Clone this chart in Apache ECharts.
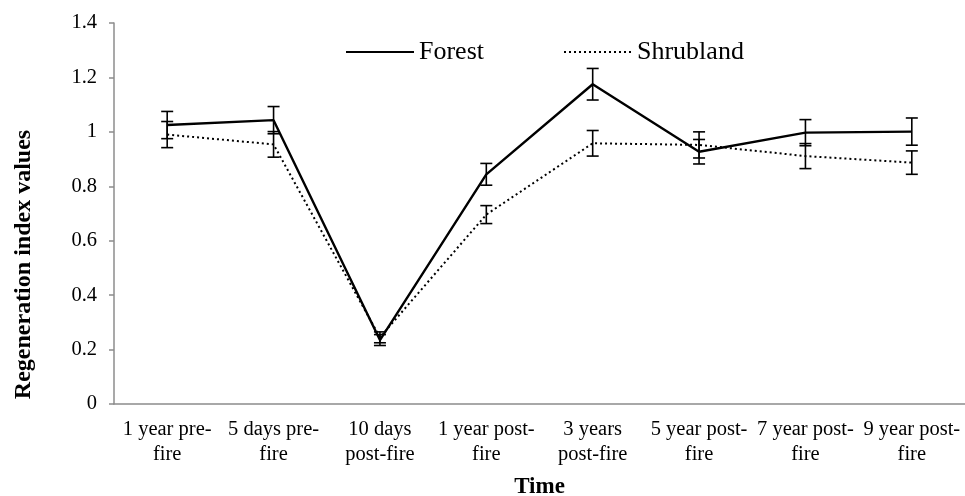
<!DOCTYPE html>
<html>
<head>
<meta charset="utf-8">
<script src="https://cdn.jsdelivr.net/npm/echarts@6/dist/echarts.min.js"></script>
<style>
  html, body { margin: 0; padding: 0; background: #fff; }
  #chart { width: 965px; height: 496px; }
</style>
</head>
<body>
<div id="chart"></div>
<script>
// Kategorien (Zeitpunkte)
const categories = [
  "1 year pre-\nfire", "5 days pre-\nfire", "10 days\npost-fire", "1 year post-\nfire",
  "3 years\npost-fire", "5 year post-\nfire", "7 year post-\nfire", "9 year post-\nfire"
];
const forestMean = [1.025, 1.043, 0.235, 0.844, 1.175, 0.927, 0.997, 1.001];
const forestErr  = [0.050, 0.050, 0.020, 0.040, 0.058, 0.045, 0.048, 0.050];
const shrubMean  = [0.990, 0.954, 0.245, 0.696, 0.958, 0.952, 0.911, 0.887];
const shrubErr   = [0.048, 0.047, 0.020, 0.033, 0.047, 0.048, 0.046, 0.043];

const font = "'Liberation Serif', 'Times New Roman', serif";
const chart = echarts.init(document.getElementById("chart"));

// Fehlerbalken als custom series
const errorData = (mean, err) => mean.map((m, i) => [i, m - err[i], m + err[i]]);

const renderError = (params, api) => {
  const low = api.coord([api.value(0), api.value(1)]);
  const high = api.coord([api.value(0), api.value(2)]);
  const hw = 6;
  const style = { stroke: "#000", lineWidth: 1.6 };
  return {
    type: "group",
    children: [
      { type: "line", shape: { x1: high[0], y1: high[1], x2: low[0], y2: low[1] }, style },
      { type: "line", shape: { x1: high[0] - hw, y1: high[1], x2: high[0] + hw, y2: high[1] }, style },
      { type: "line", shape: { x1: low[0] - hw, y1: low[1], x2: low[0] + hw, y2: low[1] }, style }
    ]
  };
};

const option = {
  animation: false,
  grid: { left: 114, right: 0, top: 23, bottom: 92, outerBoundsMode: "none" },
  legend: {
    data: ["Forest", "Shrubland"],
    left: 340,
    top: 34,
    itemWidth: 68,
    itemHeight: 14,
    itemGap: 79,
    itemStyle: { opacity: 0 },
    textStyle: { fontFamily: font, fontSize: 26, color: "#000" }
  },
  xAxis: {
    type: "category",
    data: categories,
    name: "Time",
    nameLocation: "middle",
    nameGap: 72,
    nameTextStyle: { fontFamily: font, fontSize: 23, fontWeight: "bold", color: "#000" },
    axisLine: { lineStyle: { color: "#8c8c8c", width: 1.5 } },
    axisTick: { length: 5, lineStyle: { color: "#8c8c8c", width: 1.5 } },
    axisLabel: { fontFamily: font, fontSize: 20.5, color: "#000", lineHeight: 25, margin: 13, interval: 0 }
  },
  yAxis: {
    type: "value",
    min: 0,
    max: 1.4,
    interval: 0.2,
    name: "Regeneration index values",
    nameLocation: "middle",
    nameGap: 78,
    nameTextStyle: { fontFamily: font, fontSize: 24, fontWeight: "bold", color: "#000", padding: [0, 102, 0, 0] },
    axisLine: { show: true, lineStyle: { color: "#8c8c8c", width: 1.5 } },
    axisTick: { show: true, length: 5, lineStyle: { color: "#8c8c8c", width: 1.5 } },
    axisLabel: { fontFamily: font, fontSize: 20.5, color: "#000", margin: 17 },
    splitLine: { show: false }
  },
  series: [
    {
      name: "Forest",
      type: "line",
      data: forestMean,
      symbol: "none",
      lineStyle: { color: "#000", width: 2.4, type: "solid" },
      itemStyle: { color: "#000" },
      z: 3
    },
    {
      name: "Shrubland",
      type: "line",
      data: shrubMean,
      symbol: "none",
      lineStyle: { color: "#000", width: 2, type: [2, 3] },
      itemStyle: { color: "#000" },
      z: 2
    },
    {
      type: "custom",
      renderItem: renderError,
      data: errorData(forestMean, forestErr),
      encode: { x: 0, y: [1, 2] },
      z: 4
    },
    {
      type: "custom",
      renderItem: renderError,
      data: errorData(shrubMean, shrubErr),
      encode: { x: 0, y: [1, 2] },
      z: 4
    }
  ]
};

chart.setOption(option);
</script>
</body>
</html>
